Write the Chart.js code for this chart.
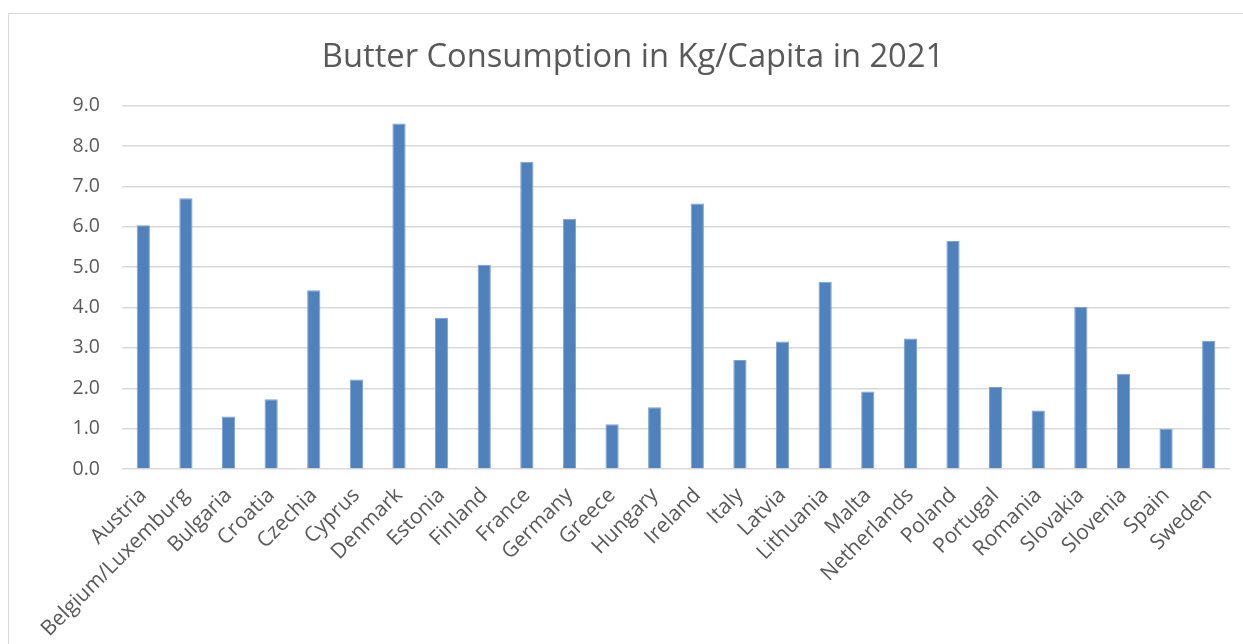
<!DOCTYPE html>
<html>
<head>
<meta charset="utf-8">
<script src="https://cdn.jsdelivr.net/npm/chart.js@4/dist/chart.umd.min.js"></script>
<style>
  html, body { margin: 0; padding: 0; background: #fff; }
  #frame {
    position: absolute; left: 8px; top: 13px; width: 1260px; height: 660px;
    border: 1px solid #d9d9d9; box-sizing: border-box;
  }
  #wrap { position: absolute; left: 0; top: 0; width: 1243px; height: 644px; }
</style>
</head>
<body>
<div id="frame"></div>
<div id="wrap"><canvas id="c" width="1243" height="644"></canvas></div>
<script>
// Butter consumption per capita (kg), 2021
const countries = [
  'Austria', 'Belgium/Luxemburg', 'Bulgaria', 'Croatia', 'Czechia', 'Cyprus',
  'Denmark', 'Estonia', 'Finland', 'France', 'Germany', 'Greece', 'Hungary',
  'Ireland', 'Italy', 'Latvia', 'Lithuania', 'Malta', 'Netherlands', 'Poland',
  'Portugal', 'Romania', 'Slovakia', 'Slovenia', 'Spain', 'Sweden'
];
const kgPerCapita = [
  6.04, 6.71, 1.30, 1.73, 4.43, 2.22,
  8.56, 3.75, 5.06, 7.61, 6.20, 1.11, 1.53,
  6.58, 2.70, 3.16, 4.64, 1.92, 3.23, 5.65,
  2.03, 1.45, 4.02, 2.36, 1.00, 3.17
];
const yTicks = [0, 1, 2, 3, 4, 5, 6, 7, 8, 9];

const textColor = '#595959';
const fontFamily = '"Open Sans", sans-serif';

new Chart(document.getElementById('c'), {
  type: 'bar',
  data: {
    labels: countries,
    datasets: [{
      label: 'Kg/Capita',
      data: kgPerCapita,
      backgroundColor: '#4f81bd',
      borderColor: '#7ea1cf',
      borderWidth: 1,
      categoryPercentage: 0.31,
      barPercentage: 1.0
    }]
  },
  options: {
    responsive: false,
    animation: false,
    layout: { padding: { left: 36, right: 13, top: 0, bottom: 0 } },
    plugins: {
      legend: { display: false },
      tooltip: { enabled: false },
      title: {
        display: true,
        text: 'Butter Consumption in Kg/Capita in 2021',
        color: textColor,
        font: { family: fontFamily, size: 32.7, weight: 'normal' },
        padding: { top: 38.5, bottom: 27.96 }
      }
    },
    scales: {
      x: {
        grid: { display: false, drawTicks: false },
        border: { display: false },
        ticks: {
          color: textColor,
          font: { family: fontFamily, size: 21 },
          minRotation: 45, maxRotation: 45,
          autoSkip: false,
          padding: 14,
          labelOffset: 0
        },
        afterFit: (s) => { s.height = 175; }
      },
      y: {
        min: 0, max: 9,
        afterBuildTicks: (s) => { s.ticks = yTicks.map(v => ({ value: v })); },
        grid: { color: '#d9d9d9', lineWidth: 1.5, drawTicks: false },
        border: { display: false },
        ticks: {
          color: textColor,
          font: { family: fontFamily, size: 19.5 },
          padding: 22,
          callback: (v) => Number(v).toFixed(1)
        },
        afterFit: (s) => { s.width = 86; }
      }
    }
  }
});
</script>
</body>
</html>
